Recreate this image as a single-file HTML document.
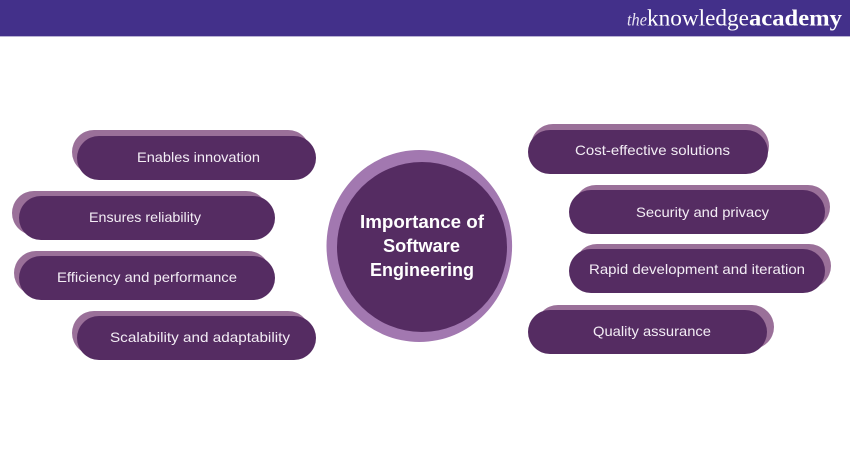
<!DOCTYPE html>
<html>
<head>
<meta charset="utf-8">
<style>
html,body{margin:0;padding:0;background:#fff;width:850px;height:450px;overflow:hidden}
svg{display:block}
text{font-family:"Liberation Sans",sans-serif}
.l{fill:#f3edf5;font-size:14px}
.c{fill:#fff;font-size:18.5px;font-weight:bold}
</style>
</head>
<body>
<svg width="850" height="450" viewBox="0 0 850 450" xmlns="http://www.w3.org/2000/svg">
<rect x="0" y="0" width="850" height="450" fill="#fff"/>
<rect x="0" y="0" width="850" height="36" fill="#43308a"/>
<rect x="0" y="36" width="850" height="1" fill="#b9b2d3"/>
<text x="627" y="25.5" font-size="18" font-style="italic" fill="#e8e4f2" textLength="20" lengthAdjust="spacingAndGlyphs" style="font-family:'Liberation Serif',serif">the</text>
<text x="647" y="25.5" font-size="23" fill="#fff" textLength="102" lengthAdjust="spacingAndGlyphs" style="font-family:'Liberation Serif',serif">knowledge</text>
<text x="749" y="25.5" font-size="23" font-weight="bold" fill="#fff" textLength="93" lengthAdjust="spacingAndGlyphs" style="font-family:'Liberation Serif',serif">academy</text>

<g fill="#9a7099">
<rect x="72" y="130" width="238" height="44" rx="22"/>
<rect x="12" y="191" width="256" height="44" rx="22"/>
<rect x="14" y="251" width="256" height="44" rx="22"/>
<rect x="72" y="311" width="238" height="44" rx="22"/>
<rect x="531" y="124" width="238" height="44" rx="22"/>
<rect x="574" y="185" width="256" height="44" rx="22"/>
<rect x="575" y="244" width="256" height="44" rx="22"/>
<rect x="536" y="305" width="238" height="44" rx="22"/>
</g>
<g fill="#552c62">
<rect x="77" y="136" width="239" height="44" rx="22"/>
<rect x="19" y="196" width="256" height="44" rx="22"/>
<rect x="19" y="256" width="256" height="44" rx="22"/>
<rect x="77" y="316" width="239" height="44" rx="22"/>
<rect x="528" y="130" width="240" height="44" rx="22"/>
<rect x="569" y="190" width="256" height="44" rx="22"/>
<rect x="569" y="249" width="256" height="44" rx="22"/>
<rect x="528" y="310" width="239" height="44" rx="22"/>
</g>
<ellipse cx="419.3" cy="246" rx="92.8" ry="96" fill="#a278b0"/>
<ellipse cx="422" cy="247" rx="85" ry="85" fill="#552c62"/>

<g class="l">
<text class="l" x="137" y="162" textLength="123" lengthAdjust="spacingAndGlyphs">Enables innovation</text>
<text class="l" x="89" y="222" textLength="112" lengthAdjust="spacingAndGlyphs">Ensures reliability</text>
<text class="l" x="57" y="282" textLength="180" lengthAdjust="spacingAndGlyphs">Efficiency and performance</text>
<text class="l" x="110" y="342" textLength="180" lengthAdjust="spacingAndGlyphs">Scalability and adaptability</text>
<text class="l" x="575" y="155" textLength="155" lengthAdjust="spacingAndGlyphs">Cost-effective solutions</text>
<text class="l" x="636" y="217" textLength="133" lengthAdjust="spacingAndGlyphs">Security and privacy</text>
<text class="l" x="589" y="274" textLength="216" lengthAdjust="spacingAndGlyphs">Rapid development and iteration</text>
<text class="l" x="593" y="336" textLength="118" lengthAdjust="spacingAndGlyphs">Quality assurance</text>
</g>
<text class="c" x="360" y="228" textLength="124" lengthAdjust="spacingAndGlyphs">Importance of</text>
<text class="c" x="383" y="252" textLength="77" lengthAdjust="spacingAndGlyphs">Software</text>
<text class="c" x="370" y="276" textLength="104" lengthAdjust="spacingAndGlyphs">Engineering</text>
</svg>
</body>
</html>
